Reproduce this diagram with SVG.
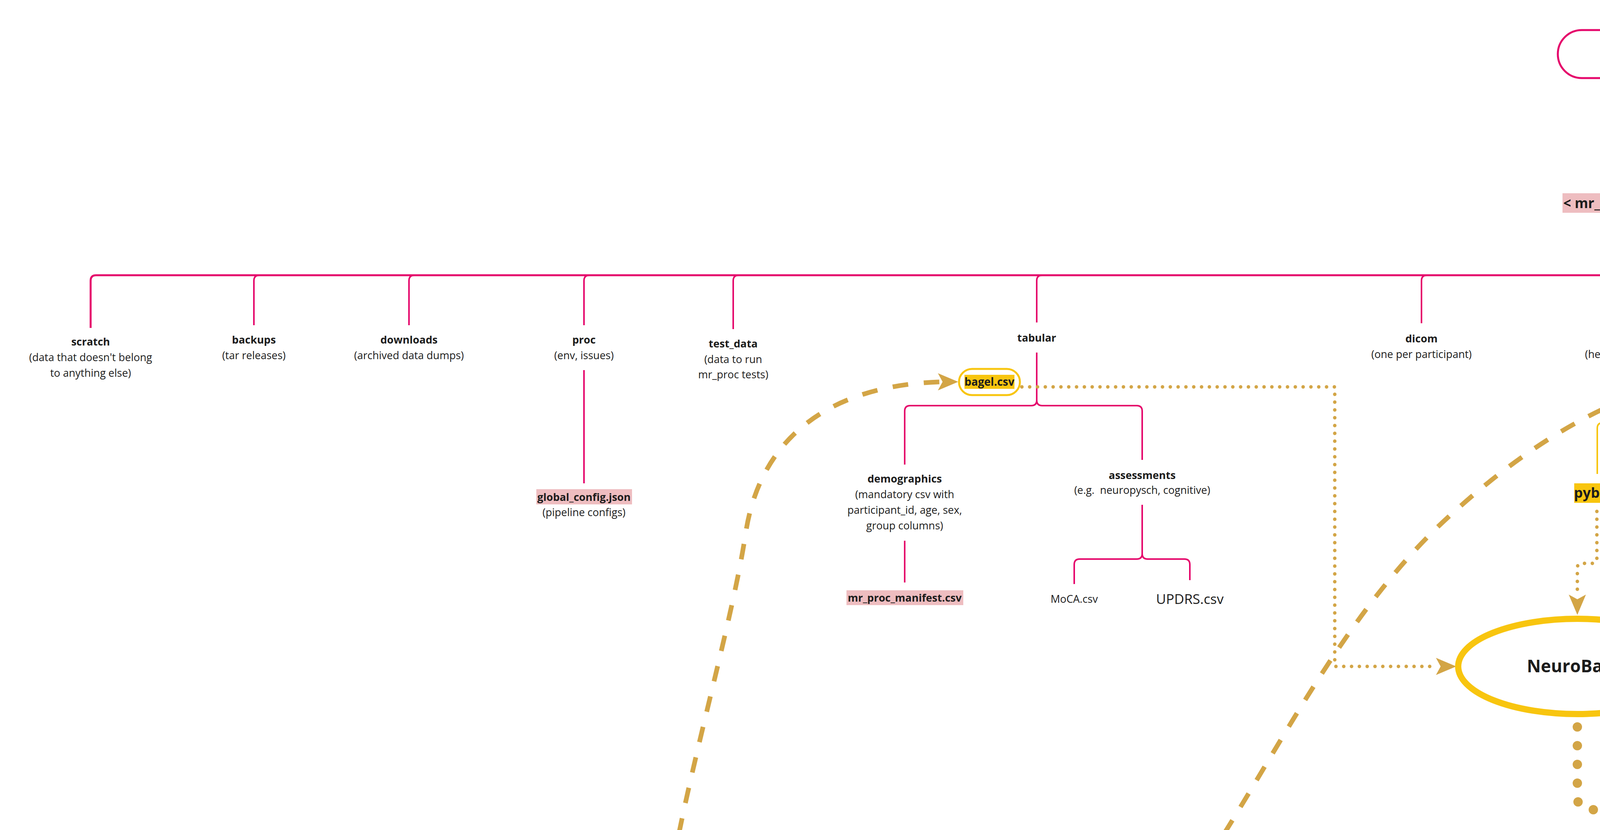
<svg xmlns="http://www.w3.org/2000/svg" xmlns:xlink="http://www.w3.org/1999/xlink" width="7525" height="2126" viewBox="0 0 7525 2126">
<style>
.pk{fill:none;stroke:#E5076B;stroke-width:4;stroke-linejoin:round}
.pkm{stroke-width:5}
.yl{fill:none;stroke:#F7C50F;stroke-width:4}
.t{font-family:'Open Sans','Noto Sans','DejaVu Sans',sans-serif;font-size:27px;fill:#1c1c1c;text-anchor:middle}
.b{font-weight:700}
.big{font-size:35px}
.dot{fill:none;stroke:#D3A546;stroke-width:9;stroke-linecap:round;stroke-dasharray:0 20}
.bigdot{fill:none;stroke:#D3A546;stroke-width:24;stroke-linecap:round;stroke-dasharray:0 48}
.dash{fill:none;stroke:#D3A546;stroke-width:12;stroke-dasharray:40 40}
.ah{fill:#D3A546}
.hlp{fill:#EEBDC0}
.hly{fill:#F8C50F}
.pill{fill:#fff;stroke:#F8C50F;stroke-width:5}
</style>
<defs>
<path id="arrow" d="M0 0 L-52 -22 L-40 0 L-52 22 Z"/>
</defs>
<rect width="7525" height="2126" fill="#fff"/>
<g id="connectors">
<path class="pk" d="M4177 200 V472"/>
<path class="pk pkm" d="M4177 568 V691 Q4177 705 4163 705 M4177 691 Q4177 705 4191 705"/>
<path class="pk pkm" d="M232 840 V719 Q232 705 246 705 H7059 Q7073 705 7073 719 V860"/>
<path class="pk" d="M650 833 V719 Q650 705 664 705 M1047 833 V719 Q1047 705 1061 705 M1495 833 V719 Q1495 705 1509 705 M1877 843 V719 Q1877 705 1891 705 M2654 826 V719 Q2654 705 2668 705 M3639 828 V719 Q3639 705 3653 705 M4177 705 V828 M5893 826 V719 Q5893 705 5879 705"/>
<path class="pk" d="M1495 948 V1238"/>
<path class="pk" d="M2654 903 V1025 Q2654 1039 2640 1039 H2330 Q2316 1039 2316 1053 V1190 M2654 1025 Q2654 1039 2668 1039 H2910 Q2924 1039 2924 1053 V1178"/>
<path class="pk" d="M2316 1385 V1492"/>
<path class="pk" d="M2924 1293 V1418 Q2924 1432 2910 1432 H2764 Q2750 1432 2750 1446 V1496 M2924 1418 Q2924 1432 2938 1432 H3032 Q3046 1432 3046 1446 V1486"/>
<path class="pk" d="M5893 903 V1025 Q5893 1039 5879 1039 H4617 Q4603 1039 4603 1053 V1172 M5893 1025 Q5893 1039 5907 1039 H6374 Q6388 1039 6388 1053 V1176 M5230 1172 V1053 Q5230 1039 5244 1039 M5821 1181 V1053 Q5821 1039 5835 1039"/>
<path class="pk" d="M4603 1248 V1336 M4603 1411 V1514"/>
<path class="pk" d="M5230 1248 V1336 M5230 1411 V1514 M5230 1592 V1677 Q5230 1691 5216 1691 H5106 Q5092 1691 5092 1705 V1748 M5230 1677 V1690 Q5230 1704 5244 1704 H5339 Q5353 1704 5353 1718 V1760"/>
<path class="pk" d="M5821 1257 V1331 M5821 1407 V1512"/>
<path class="pk" d="M6388 1250 V1336 M6388 1413 V1516 M6388 1594 V1691 Q6388 1705 6374 1705 H6264 Q6250 1705 6250 1719 V1761 M6388 1691 Q6388 1705 6402 1705 H6638 Q6652 1705 6652 1719 V1761"/>
<path class="pk" d="M6250 1839 V1941 Q6250 1955 6236 1955 H6129 Q6115 1955 6115 1969 V2010 M6250 1941 Q6250 1955 6264 1955 H6384 Q6398 1955 6398 1969 V2010"/>
<path class="pk" d="M7073 935 V1057 Q7073 1071 7087 1071 H7163 Q7177 1071 7177 1085 V1179"/>
<path class="pk" d="M7177 1295 V1418 Q7177 1432 7163 1432 H6950 Q6936 1432 6936 1446 V1570 M7177 1418 Q7177 1432 7191 1432 H7371 Q7385 1432 7385 1446 V1570 M7145 1570 V1446 Q7145 1432 7159 1432"/>
<path class="yl" d="M4177 945 V1069 Q4177 1083 4163 1083 H4103 Q4089 1083 4089 1097 V1214"/>
<path class="dot" d="M2616 991 H3417 V1707 H3676"/>
<path class="dot" d="M5682 969 H4805 V1707 H4404"/>
<path class="dot" d="M4088 1310 V1431 Q4088 1443 4076 1443 H4050 Q4038 1443 4038 1455 V1522"/>
<path class="bigdot" d="M4038 1862 V2040 Q4038 2074 4072 2074 H4375 Q4401 2074 4401 2100 V2180"/>
<path class="dash" d="M1738 2135 C1790 1880 1880 1560 1909 1365 C1950 1100 2150 985 2412 978"/>
<path class="dash" d="M3134 2135 C3306 1858 3467 1544 3708 1324 C3873 1173 4066 1039 4282 982 C4640 895 5046 821 5433 821 C5560 821 5761 826 5761 886"/>
<use href="#arrow" xlink:href="#arrow" class="ah" transform="translate(3728 1707)"/>
<use href="#arrow" xlink:href="#arrow" class="ah" transform="translate(4350 1707) rotate(180)"/>
<use href="#arrow" xlink:href="#arrow" class="ah" transform="translate(4038 1575) rotate(90)"/>
<use href="#arrow" xlink:href="#arrow" class="ah" transform="translate(2453 978)"/>
<use href="#arrow" xlink:href="#arrow" class="ah" transform="translate(5761 931) rotate(90)"/>
</g>

<g id="data-dir">
<rect x="3988" y="77" width="376" height="123" rx="61.5" fill="#fff" stroke="#E5076B" stroke-width="5"/>
<text class="t b" x="4176" y="148">DATA DIR</text>
</g>
<g id="mr-proc-dataset">
<rect class="hlp" x="4000" y="495" width="353" height="50"/>
<text class="t b" x="4176" y="533" style="font-size:35px">&lt; mr_proc_dataset &gt;</text>
</g>
<g id="scratch">
<text class="t b" x="232" y="885">scratch</text>
<text class="t" x="232" y="925">(data that doesn't belong</text>
<text class="t" x="232" y="965">to anything else)</text>
</g>
<g id="backups">
<text class="t b" x="650" y="880">backups</text>
<text class="t" x="650" y="920">(tar releases)</text>
</g>
<g id="downloads">
<text class="t b" x="1047" y="880">downloads</text>
<text class="t" x="1047" y="920">(archived data dumps)</text>
</g>
<g id="proc">
<text class="t b" x="1495" y="880">proc</text>
<text class="t" x="1495" y="920">(env, issues)</text>
</g>
<g id="global-config">
<rect class="hlp" x="1373" y="1253" width="245" height="39"/>
<text class="t b" x="1495" y="1283">global_config.json</text>
<text class="t" x="1495" y="1322">(pipeline configs)</text>
</g>
<g id="test-data">
<text class="t b" x="1877" y="890">test_data</text>
<text class="t" x="1877" y="930">(data to run</text>
<text class="t" x="1877" y="969">mr_proc tests)</text>
</g>
<g id="tabular">
<text class="t b" x="2654" y="875">tabular</text>
</g>
<g id="bagel-tabular">
<rect class="pill" x="2455" y="945" width="156" height="67" rx="33.5"/>
<rect class="hly" x="2469" y="960" width="128" height="36"/>
<text class="t b" x="2533" y="988" style="font-size:28px">bagel.csv</text>
</g>
<g id="demographics">
<text class="t b" x="2316" y="1236">demographics</text>
<text class="t" x="2316" y="1276">(mandatory csv with</text>
<text class="t" x="2316" y="1316">participant_id, age, sex,</text>
<text class="t" x="2316" y="1356">group columns)</text>
</g>
<g id="manifest">
<rect class="hlp" x="2167" y="1512" width="299" height="38"/>
<text class="t b" x="2316" y="1541">mr_proc_manifest.csv</text>
</g>
<g id="assessments">
<text class="t b" x="2924" y="1227">assessments</text>
<text class="t" x="2924" y="1265">(e.g.&#160; neuropysch, cognitive)</text>
</g>
<g id="moca"><text class="t" x="2750" y="1544">MoCA.csv</text></g>
<g id="updrs"><text class="t big" x="3046" y="1547">UPDRS.csv</text></g>
<g id="dicom">
<text class="t b" x="3639" y="877">dicom</text>
<text class="t" x="3639" y="917">(one per participant)</text>
</g>
<g id="bids">
<text class="t b" x="4177" y="877">bids</text>
<text class="t" x="4177" y="917">(heudiconv output)</text>
</g>
<g id="pybids">
<rect class="hly" x="4030" y="1238" width="117" height="50"/>
<text class="t b" x="4088" y="1275" style="font-size:36px">pybids</text>
</g>
<g id="neurobagel">
<ellipse cx="4038" cy="1707" rx="305" ry="122" fill="#fff" stroke="#F8C50F" stroke-width="16"/>
<text class="t b" x="4038" y="1722" style="font-size:44px">NeuroBagel</text>
</g>
<g id="derivatives">
<text class="t b" x="5893" y="874">derivatives</text>
</g>
<g id="bagel-derivatives">
<rect class="pill" x="5683" y="935" width="156" height="67" rx="33.5"/>
<rect class="hly" x="5697" y="950" width="128" height="36"/>
<text class="t b" x="5761" y="978" style="font-size:28px">bagel.csv</text>
</g>
<g id="mriqc">
<text class="t b" x="4603" y="1222">mriqc</text>
<text class="t" x="4603" y="1384">version</text>
<text class="t" x="4603" y="1562">output</text>
</g>
<g id="fmriprep">
<text class="t b" x="5230" y="1222">fmriprep</text>
<text class="t" x="5230" y="1384">version</text>
<text class="t" x="5230" y="1564">BIDS-output</text>
<text class="t big" x="5092" y="1809">sub-001</text>
<text class="t" x="5353" y="1807">sub-002</text>
</g>
<g id="tractoflow">
<text class="t b" x="5821" y="1229">tractoflow</text>
<text class="t" x="5821" y="1380">version</text>
<text class="t" x="5821" y="1560">output</text>
</g>
<g id="freesurfer">
<text class="t b" x="6388" y="1224">freesurfer*</text>
<text class="t" x="6388" y="1386">version</text>
<text class="t" x="6388" y="1565">non-BIDS-output</text>
<text class="t" x="6250" y="1811">session-A</text>
<text class="t" x="6652" y="1811">session-B</text>
<text class="t" x="6115" y="2060">sub-001</text>
<text class="t" x="6398" y="2060">sub-002</text>
</g>
<g id="releases">
<text class="t b" x="7073" y="908">releases</text>
</g>
<g id="r01">
<text class="t b" x="7177" y="1227">R01</text>
<text class="t" x="7177" y="1267">(symlinks)</text>
<text class="t" x="6936" y="1619">tabular</text>
<text class="t" x="7145" y="1619">bids</text>
<text class="t" x="7385" y="1619">derivatives</text>
</g>
</svg>
